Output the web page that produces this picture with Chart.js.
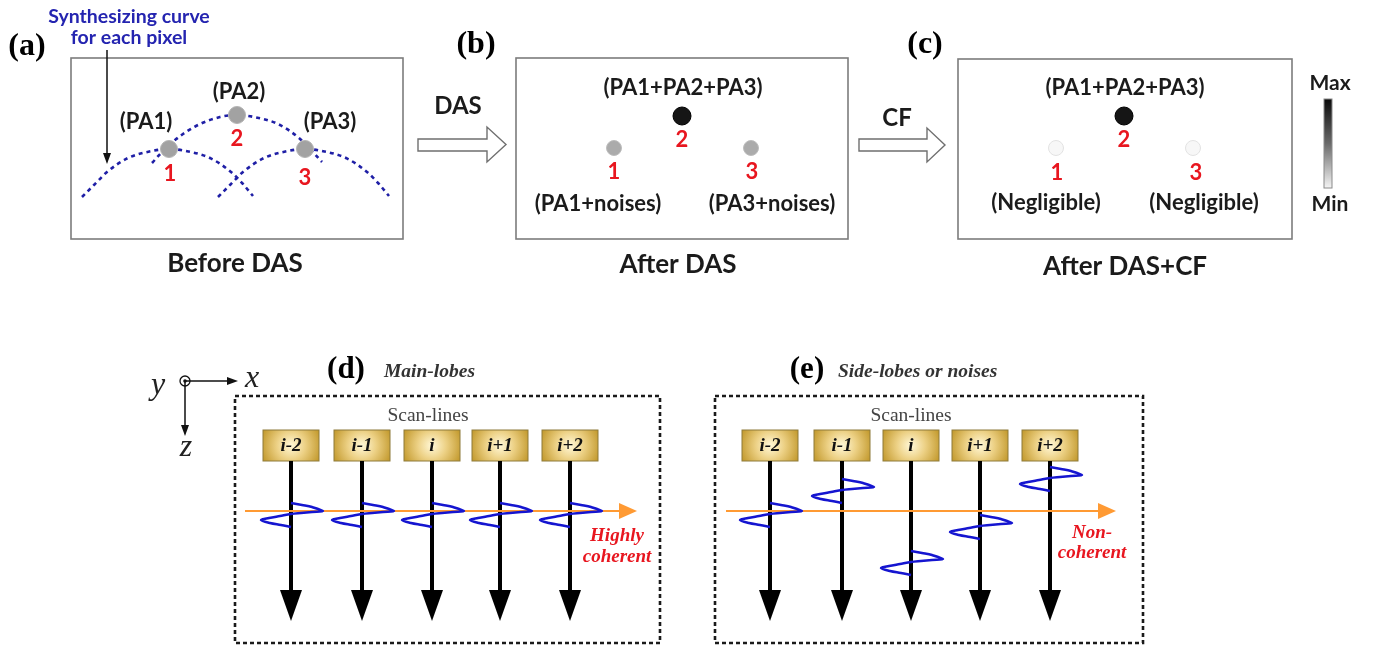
<!DOCTYPE html>
<html>
<head>
<meta charset="utf-8">
<script src="https://cdn.jsdelivr.net/npm/chart.js@4.4.0/dist/chart.umd.min.js"></script>
<style>
  html, body { margin: 0; padding: 0; background: #fff; }
  #fig { display: block; }
</style>
</head>
<body>
<canvas id="fig" width="1375" height="646"></canvas>
<script>
// All values are in picture units (x to the right, y downwards).

// --- panel (a): synthesizing curves ---
const curve1X = [82, 95, 107, 128, 152, 169, 186, 210, 231, 243, 253];
const curve1Y = [197, 184, 172, 158, 151, 149, 151, 158, 172, 184, 196];
const curve2X = [152, 163, 175, 196, 220, 237, 254, 278, 299, 311, 322];
const curve2Y = [163, 151, 140, 126, 117, 115, 117, 124, 138, 150, 162];
const curve3X = [218, 231, 243, 264, 288, 305, 322, 346, 367, 379, 389];
const curve3Y = [197, 184, 172, 158, 151, 149, 151, 158, 172, 184, 196];

// --- point sources in panels (a), (b), (c) ---
const dotsAX = [169, 237, 305];
const dotsAY = [149, 115, 149];
const dotsBX = [614, 682, 751];
const dotsBY = [148, 116, 148];
const dotsCX = [1056, 1124, 1193];
const dotsCY = [148, 116, 148];
const dotsAColor = ['#a2a2a2', '#a2a2a2', '#a2a2a2'];
const dotsBColor = ['#ababab', '#151515', '#ababab'];
const dotsCColor = ['#f7f7f7', '#151515', '#f7f7f7'];

const pointNumbers = ['1', '2', '3'];
const numAX = [170, 237, 305];
const numAY = [174, 139, 178];
const numBX = [614, 682, 752];
const numBY = [172, 140, 172];
const numCX = [1057, 1124, 1196];
const numCY = [173, 140, 173];

// --- panels (d) and (e): scan-lines ---
const scanLabels = ['i-2', 'i-1', 'i', 'i+1', 'i+2'];
const scanXD = [291, 362, 432, 500, 570];
const scanXE = [770, 842, 911, 980, 1050];
const pulseYD = [515, 515, 515, 515, 515];
const pulseYE = [515, 491, 563, 527, 479];
// one echo pulse, offsets from its centre on the scan-line
const pulseDx = [0, 11, 21, 32, 21, 10, 0, -11, -22, -30, -21, -10, 0];
const pulseDy = [-12, -10, -8, -4, -3, -2, -1, 1, 3, 5, 8, 10, 12];

const scanTop = 461, scanHead = 590, scanTip = 621;
const orangeY = 511;

function pts(xs, ys) {
  return xs.map((x, i) => ({ x: x, y: ys[i] }));
}

function lineSet(xs, ys, color, width, extra) {
  return Object.assign({
    data: pts(xs, ys),
    showLine: true,
    borderColor: color,
    borderWidth: width,
    pointRadius: 0,
    fill: false
  }, extra || {});
}

const datasets = [];

// synthesizing curves
[[curve1X, curve1Y], [curve2X, curve2Y], [curve3X, curve3Y]].forEach(c => {
  datasets.push(lineSet(c[0], c[1], '#1f1fa6', 2.6, {
    borderDash: [4, 4], cubicInterpolationMode: 'monotone', order: 6
  }));
});

// point sources
function dotSet(xs, ys, colors, r, border) {
  return {
    data: pts(xs, ys),
    showLine: false,
    pointRadius: r,
    pointBackgroundColor: colors,
    pointBorderColor: border,
    pointBorderWidth: 1,
    order: 1
  };
}
datasets.push(dotSet(dotsAX, dotsAY, dotsAColor, 8.5, '#b4b4b4'));
datasets.push(dotSet(dotsBX, dotsBY, dotsBColor, [7.5, 9, 7.5], ['#bdbdbd', '#000', '#bdbdbd']));
datasets.push(dotSet(dotsCX, dotsCY, dotsCColor, [7.5, 9, 7.5], ['#e2e2e2', '#000', '#e2e2e2']));

// annotation arrow shaft in (a)
datasets.push(lineSet([107, 107], [50, 155], '#111', 1.5, { order: 5 }));
// axis icon shafts
datasets.push(lineSet([185, 229], [381, 381], '#111', 1.5, { order: 5 }));
datasets.push(lineSet([185, 185], [381, 427], '#111', 1.5, { order: 5 }));

// scan-line shafts
scanXD.concat(scanXE).forEach(x => {
  datasets.push(lineSet([x, x], [scanTop, scanHead + 2], '#000', 4, { order: 4 }));
});

// orange depth lines
datasets.push(lineSet([245, 622], [orangeY, orangeY], '#ff9a33', 2.2, { order: 3 }));
datasets.push(lineSet([726, 1101], [orangeY, orangeY], '#ff9a33', 2.2, { order: 3 }));

// echo pulses
function pulseSet(cx, cy) {
  return lineSet(pulseDx.map(d => cx + d), pulseDy.map(d => cy + d), '#1515d0', 2.6, {
    tension: 0.35, order: 2
  });
}
scanXD.forEach((x, i) => datasets.push(pulseSet(x, pulseYD[i])));
scanXE.forEach((x, i) => datasets.push(pulseSet(x, pulseYE[i])));

const SANS = 'Lato, "Open Sans", sans-serif';
const SERIF = '"Liberation Serif", "DejaVu Serif", serif';

const drawPlugin = {
  id: 'diagram',
  beforeDatasetsDraw(chart) {
    const ctx = chart.ctx;
    const sx = v => chart.scales.x.getPixelForValue(v);
    const sy = v => chart.scales.y.getPixelForValue(v);

    function rect(x0, y0, x1, y1, color, lw, dash) {
      ctx.save();
      ctx.strokeStyle = color;
      ctx.lineWidth = lw;
      ctx.setLineDash(dash || []);
      ctx.strokeRect(sx(x0), sy(y0), sx(x1) - sx(x0), sy(y1) - sy(y0));
      ctx.restore();
    }

    // image frames
    rect(71, 58, 403, 239, '#7c7c7c', 1.6);
    rect(516, 58, 848, 239, '#7c7c7c', 1.6);
    rect(958, 59, 1292, 239, '#7c7c7c', 1.6);

    // hollow block arrows
    function blockArrow(x0, xh, xt, ys0, ys1, yh0, yh1) {
      const ym = (yh0 + yh1) / 2;
      ctx.save();
      ctx.beginPath();
      ctx.moveTo(sx(x0), sy(ys0));
      ctx.lineTo(sx(xh), sy(ys0));
      ctx.lineTo(sx(xh), sy(yh0));
      ctx.lineTo(sx(xt), sy(ym));
      ctx.lineTo(sx(xh), sy(yh1));
      ctx.lineTo(sx(xh), sy(ys1));
      ctx.lineTo(sx(x0), sy(ys1));
      ctx.closePath();
      ctx.fillStyle = '#fff';
      ctx.fill();
      ctx.strokeStyle = '#6f6f6f';
      ctx.lineWidth = 1.4;
      ctx.stroke();
      ctx.restore();
    }
    blockArrow(418, 487, 506, 139, 151, 127, 162);
    blockArrow(859, 927, 945, 139, 151, 128, 162);

    // colour bar
    const g = ctx.createLinearGradient(0, sy(99), 0, sy(188));
    g.addColorStop(0, '#0a0a0a');
    g.addColorStop(0.5, '#6a6a6a');
    g.addColorStop(1, '#f4f4f4');
    ctx.save();
    ctx.fillStyle = g;
    ctx.fillRect(sx(1324), sy(99), sx(1332) - sx(1324), sy(188) - sy(99));
    ctx.strokeStyle = '#8a8a8a';
    ctx.lineWidth = 1;
    ctx.strokeRect(sx(1324), sy(99), sx(1332) - sx(1324), sy(188) - sy(99));
    ctx.restore();

    // dashed frames of (d) and (e)
    rect(235, 396, 660, 643, '#1a1a1a', 2.6, [4, 3]);
    rect(715, 396, 1143, 643, '#1a1a1a', 2.6, [4, 3]);

    // transducer boxes
    function scanBox(cx, half) {
      const x0 = sx(cx - half), x1 = sx(cx + half), y0 = sy(430), y1 = sy(461);
      const mx = (x0 + x1) / 2, my = (y0 + y1) / 2;
      const rg = ctx.createRadialGradient(mx, my, 1, mx, my, (x1 - x0) * 0.55);
      rg.addColorStop(0, '#fff6d2');
      rg.addColorStop(0.45, '#ecd084');
      rg.addColorStop(1, '#c39a2e');
      ctx.save();
      ctx.fillStyle = rg;
      ctx.fillRect(x0, y0, x1 - x0, y1 - y0);
      ctx.strokeStyle = '#8e7b3a';
      ctx.lineWidth = 1;
      ctx.strokeRect(x0, y0, x1 - x0, y1 - y0);
      ctx.restore();
    }
    scanXD.forEach(x => scanBox(x, 28));
    scanXE.forEach(x => scanBox(x, 28));
  },
  afterDatasetsDraw(chart) {
    const ctx = chart.ctx;
    const sx = v => chart.scales.x.getPixelForValue(v);
    const sy = v => chart.scales.y.getPixelForValue(v);

    function tri(ax, ay, bx, by, cx, cy, color) {
      ctx.save();
      ctx.beginPath();
      ctx.moveTo(sx(ax), sy(ay));
      ctx.lineTo(sx(bx), sy(by));
      ctx.lineTo(sx(cx), sy(cy));
      ctx.closePath();
      ctx.fillStyle = color;
      ctx.fill();
      ctx.restore();
    }

    // scan-line heads
    scanXD.concat(scanXE).forEach(x => tri(x - 11, scanHead, x + 11, scanHead, x, scanTip, '#000'));
    // orange heads
    tri(619, orangeY - 8, 619, orangeY + 8, 637, orangeY, '#ff9a33');
    tri(1098, orangeY - 8, 1098, orangeY + 8, 1116, orangeY, '#ff9a33');
    // small black heads
    tri(103, 153, 111, 153, 107, 164, '#111');
    tri(227, 377, 227, 385, 238, 381, '#111');
    tri(181, 425, 189, 425, 185, 436, '#111');

    // out-of-plane y symbol
    ctx.save();
    ctx.strokeStyle = '#111';
    ctx.lineWidth = 1.3;
    ctx.beginPath();
    ctx.arc(sx(185), sy(381), 5, 0, Math.PI * 2);
    ctx.stroke();
    ctx.beginPath();
    ctx.arc(sx(185), sy(381), 1.8, 0, Math.PI * 2);
    ctx.fillStyle = '#111';
    ctx.fill();
    ctx.restore();

    function text(str, x, y, font, color, align) {
      ctx.save();
      ctx.font = font;
      ctx.fillStyle = color;
      ctx.textAlign = align || 'center';
      ctx.textBaseline = 'middle';
      ctx.fillText(str, sx(x), sy(y));
      ctx.restore();
    }

    const dark = '#1b1b1b';
    const red = '#e8161f';
    const lab = `bold 22px ${SANS}`;
    const cap = `bold 26px ${SANS}`;

    // panel (a)
    text('Synthesizing curve', 129, 17, `bold 19.5px ${SANS}`, '#2424b0');
    text('for each pixel', 129, 38, `bold 19.5px ${SANS}`, '#2424b0');
    text('(PA1)', 146, 122, lab, dark);
    text('(PA2)', 239, 92, lab, dark);
    text('(PA3)', 330, 122, lab, dark);
    text('Before DAS', 235, 264, cap, dark);
    text('DAS', 458, 106, `bold 24px ${SANS}`, dark);
    text('CF', 897, 118, `bold 24px ${SANS}`, dark);

    // panel (b)
    text('(PA1+PA2+PA3)', 683, 88, lab, dark);
    text('(PA1+noises)', 598, 204, lab, dark);
    text('(PA3+noises)', 772, 204, lab, dark);
    text('After DAS', 678, 265, cap, dark);

    // panel (c)
    text('(PA1+PA2+PA3)', 1125, 88, lab, dark);
    text('(Negligible)', 1046, 203, lab, dark);
    text('(Negligible)', 1204, 203, lab, dark);
    text('After DAS+CF', 1125, 267, cap, dark);
    text('Max', 1330, 83, `bold 21px ${SANS}`, dark);
    text('Min', 1330, 204, `bold 21px ${SANS}`, dark);

    // red point numbers
    [[numAX, numAY], [numBX, numBY], [numCX, numCY]].forEach(p => {
      pointNumbers.forEach((n, i) => text(n, p[0][i], p[1][i], `bold 22px ${SANS}`, red));
    });

    // panel letters
    text('(a)', 27, 47, `bold 32px ${SERIF}`, '#000');
    text('(b)', 476, 45, `bold 32px ${SERIF}`, '#000');
    text('(c)', 925, 45, `bold 32px ${SERIF}`, '#000');
    text('(d)', 346, 370, `bold 31px ${SERIF}`, '#000');
    text('(e)', 807, 370, `bold 31px ${SERIF}`, '#000');

    text('Main-lobes', 384, 372, `italic bold 19.5px ${SERIF}`, '#333', 'left');
    text('Side-lobes or noises', 838, 372, `italic bold 19.5px ${SERIF}`, '#333', 'left');
    text('Scan-lines', 428, 416, `19.5px ${SERIF}`, '#444');
    text('Scan-lines', 911, 416, `19.5px ${SERIF}`, '#444');

    scanLabels.forEach((s, i) => {
      text(s, scanXD[i], 446, `italic bold 19px ${SERIF}`, '#111');
      text(s, scanXE[i], 446, `italic bold 19px ${SERIF}`, '#111');
    });

    text('Highly', 617, 536, `italic bold 19px ${SERIF}`, red);
    text('coherent', 617, 557, `italic bold 19px ${SERIF}`, red);
    text('Non-', 1092, 533, `italic bold 19px ${SERIF}`, red);
    text('coherent', 1092, 553, `italic bold 19px ${SERIF}`, red);

    // axis icon letters
    text('y', 158, 386, `italic 32px ${SERIF}`, '#222');
    text('x', 252, 379, `italic 32px ${SERIF}`, '#222');
    text('z', 186, 448, `italic 32px ${SERIF}`, '#222');
  }
};

new Chart(document.getElementById('fig'), {
  type: 'scatter',
  data: { datasets: datasets },
  options: {
    responsive: false,
    animation: false,
    devicePixelRatio: 1,
    events: [],
    layout: { padding: 0, autoPadding: false },
    plugins: { legend: { display: false }, tooltip: { enabled: false } },
    scales: {
      x: { type: 'linear', min: 0, max: 1375, display: false },
      y: { type: 'linear', min: 0, max: 646, reverse: true, display: false }
    }
  },
  plugins: [drawPlugin]
});
</script>
</body>
</html>
